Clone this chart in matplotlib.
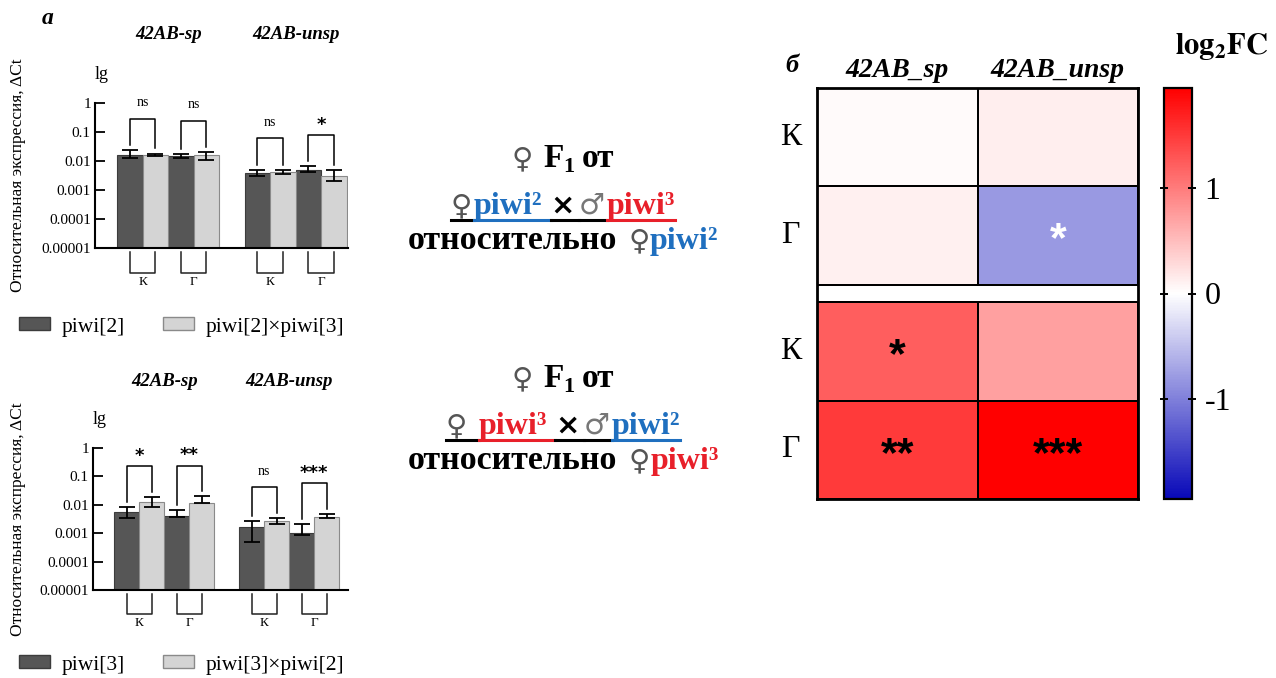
import numpy as np
import matplotlib.pyplot as plt
from matplotlib.colors import LinearSegmentedColormap
from matplotlib.patches import Patch
from matplotlib.lines import Line2D
from matplotlib.transforms import blended_transform_factory, IdentityTransform

plt.rcParams['font.family'] = ['Liberation Serif', 'DejaVu Sans']
plt.rcParams['mathtext.fontset'] = 'stix'

W, H = 1276, 678

# ---- data -------------------------------------------------------------
genes = ['42AB-sp', '42AB-unsp']
tissues = ['К', 'Г']
# order of values: sp-К, sp-Г, unsp-К, unsp-Г

# panel a, top: piwi[2] vs F1 piwi[2] x piwi[3]
top_names = ['piwi[2]', 'piwi[2]×piwi[3]']
top_ctrl = [0.0165, 0.0145, 0.0039, 0.0050]
top_ctrl_lo = [0.0126, 0.0130, 0.0030, 0.0042]
top_ctrl_hi = [0.0234, 0.0173, 0.0050, 0.0065]
top_cross = [0.0165, 0.0160, 0.0042, 0.0030]
top_cross_lo = [0.0145, 0.0105, 0.0037, 0.0021]
top_cross_hi = [0.0180, 0.0200, 0.0048, 0.0048]
top_sig = ['ns', 'ns', 'ns', '*']

# panel a, bottom: piwi[3] vs F1 piwi[3] x piwi[2]
bot_names = ['piwi[3]', 'piwi[3]×piwi[2]']
bot_ctrl = [0.0055, 0.0041, 0.0017, 0.0010]
bot_ctrl_lo = [0.0034, 0.0037, 0.00051, 0.00083]
bot_ctrl_hi = [0.0081, 0.0066, 0.0026, 0.0021]
bot_cross = [0.0130, 0.0115, 0.0027, 0.0037]
bot_cross_lo = [0.0083, 0.0112, 0.0021, 0.0034]
bot_cross_hi = [0.0187, 0.0196, 0.0034, 0.0048]
bot_sig = ['*', '**', 'ns', '***']

ytick_vals = [1e-5, 1e-4, 1e-3, 1e-2, 1e-1, 1]
ytick_labels = ['0.00001', '0.0001', '0.001', '0.01', '0.1', '1']

# panel b: log2FC, rows К, Г ; columns sp, unsp
hm_cols = ['42AB_sp', '42AB_unsp']
fc_23 = [[0.04, 0.13], [0.12, -0.80]]
fc_32 = [[1.22, 0.72], [1.50, 1.95]]
stars_23 = [['', ''], ['', '*']]
stars_32 = [['*', ''], ['**', '***']]
cbar_ticks = [-1, 0, 1]

DARK = '#565656'
LIGHT = '#d4d4d4'
BLUE = '#1f6fbf'
RED = '#e8202a'

fig = plt.figure(figsize=(W / 100, H / 100), dpi=100)


def frect(left, top, right, bottom):
    return [left / W, 1 - bottom / H, (right - left) / W, (bottom - top) / H]


def bar_panel(rect, ctrl, ctrl_lo, ctrl_hi, cross, cross_lo, cross_hi, sig, names,
              xlim, legend_y):
    ax = fig.add_axes(rect)
    ax.set_yscale('log')
    ctrl, cross = np.array(ctrl), np.array(cross)
    idx = np.arange(len(ctrl))
    p1 = (idx // 2) * 5 + (idx % 2) * 2
    p2 = p1 + 1
    ax.bar(p1, ctrl - 1e-5, bottom=1e-5, width=1, color=DARK, edgecolor='#3c3c3c', lw=0.8)
    ax.bar(p2, cross - 1e-5, bottom=1e-5, width=1, color=LIGHT, edgecolor='#8a8a8a', lw=0.8)
    for p, v, lo, hi in [(p1, ctrl, ctrl_lo, ctrl_hi), (p2, cross, cross_lo, cross_hi)]:
        ax.errorbar(p, v, yerr=[v - np.array(lo), np.array(hi) - v], fmt='none',
                    ecolor='k', elinewidth=1.3, capsize=6, capthick=1.3)
    ax.set_ylim(1e-5, 1)
    ax.set_xlim(*xlim)
    ax.set_yticks(ytick_vals)
    ax.set_yticklabels(ytick_labels, fontsize=11)
    ax.minorticks_off()
    ax.set_xticks([])
    ax.tick_params(axis='y', direction='in', length=7, width=1.3, pad=3)
    for s in ['top', 'right']:
        ax.spines[s].set_visible(False)
    for s in ['left', 'bottom']:
        ax.spines[s].set_linewidth(1.5)
    tr = blended_transform_factory(ax.transData, ax.transAxes)
    for i in idx:
        a, b = p1[i], p2[i]
        # tissue bracket below the axis
        ax.plot([a, a, b, b], [-0.03, -0.17, -0.17, -0.03], transform=tr,
                color='#222', lw=1.1, clip_on=False)
        ax.text((a + b) / 2, -0.235, tissues[i % 2], transform=tr, ha='center',
                va='center', fontsize=9.5)
        # significance bracket
        top = max(ctrl_hi[i], cross_hi[i]) * 12
        ax.plot([a, a, b, b], [ctrl_hi[i] * 1.5, top, top, cross_hi[i] * 1.5],
                color='k', lw=1.1, clip_on=False)
        if sig[i] == 'ns':
            ax.annotate('ns', ((a + b) / 2, top), xytext=(0, 7), textcoords='offset points',
                        ha='center', va='bottom', fontsize=10)
        else:
            ax.annotate(sig[i], ((a + b) / 2, top), xytext=(0, 1), textcoords='offset points',
                        ha='center', va='bottom', fontsize=13, weight='bold',
                        family='DejaVu Sans')
    for g, gene in enumerate(genes):
        c = (p1[2 * g] + p2[2 * g + 1]) / 2
        ax.text(c, 1.47, gene, transform=tr, ha='center', va='center', fontsize=13.5,
                weight='bold', style='italic')
    ax.text(0.0, 1.2, 'lg', transform=ax.transAxes, ha='left', va='center', fontsize=13)
    handles = [Patch(facecolor=DARK, edgecolor='#3c3c3c', label=names[0]),
               Patch(facecolor=LIGHT, edgecolor='#8a8a8a', label=names[1])]
    fig.legend(handles=handles, ncol=2, loc='center left',
               bbox_to_anchor=(19 / W, 1 - legend_y / H), frameon=False, fontsize=15.5,
               handlelength=1.45, handleheight=0.55, handletextpad=0.55, columnspacing=1.75,
               borderpad=0, borderaxespad=0)
    # y label
    fig.text(18 / W, rect[1] + rect[3] / 2, 'Относительная экспрессия, ΔCt', rotation=90,
             ha='center', va='center', fontsize=12.5)
    return ax


bar_panel(frect(95, 103, 348, 248), top_ctrl, top_ctrl_lo, top_ctrl_hi, top_cross,
          top_cross_lo, top_cross_hi, top_sig, top_names, (-1.37, 8.55), 327)
bar_panel(frect(93, 448, 348, 590), bot_ctrl, bot_ctrl_lo, bot_ctrl_hi, bot_cross,
          bot_cross_lo, bot_cross_hi, bot_sig, bot_names, (-1.35, 8.86), 665)

fig.text(48 / W, 1 - 18 / H, 'a', ha='center', va='center', fontsize=17,
         weight='bold', style='italic')

# ---- middle captions -------------------------------------------------
renderer = fig.canvas.get_renderer()


def rich_line(parts, cx, base_y):
    texts = []
    for p in parts:
        t = fig.text(0, 0, p['s'], transform=IdentityTransform(), ha='left', va='baseline',
                     color=p.get('c', 'k'), fontsize=p.get('size', 23),
                     weight=p.get('w', 'bold'), family=p.get('f', 'Liberation Serif'))
        texts.append(t)
    widths = [t.get_window_extent(renderer).width for t in texts]
    total = sum(widths) + sum(p.get('gap', 0) for p in parts)
    x = cx - total / 2
    segs = []
    for t, w, p in zip(texts, widths, parts):
        t.set_position((x, H - base_y + p.get('dy', 0)))
        segs.append((x, x + w + p.get('gap', 0), p.get('uc', 'k')))
        x += w + p.get('gap', 0)
    return segs


def underline(segs, y):
    for x0, x1, c in segs:
        fig.add_artist(Line2D([x0, x1], [H - y, H - y], transform=IdentityTransform(),
                              color=c, lw=2.2))


FEM = dict(s='♀', f='DejaVu Sans', w='normal', c='#555555', size=21)
MAL = dict(s='♂', f='DejaVu Sans', w='normal', c='#777777', size=21)
TIMES = dict(s='×', f='DejaVu Sans', w='bold', size=21, gap=4)

for base, first, second, rel in [(0, ('piwi²', BLUE), ('piwi³', RED), ('piwi²', BLUE)),
                                 (220, ('piwi³', RED), ('piwi²', BLUE), ('piwi³', RED))]:
    rich_line([dict(FEM, gap=10), dict(s='F', size=24), dict(s='1', size=16, dy=-5, gap=7),
               dict(s='от', size=24)], 563, 167 + base)
    segs = rich_line([dict(FEM, gap=2 if base == 0 else 12),
                      dict(s=first[0], c=first[1], uc=first[1], gap=8), TIMES,
                      dict(MAL, gap=2), dict(s=second[0], c=second[1], uc=second[1])],
                     563, 214 + base)
    underline(segs, 220 + base)
    rich_line([dict(s='относительно', size=24.5, gap=12), FEM, dict(s=rel[0], c=rel[1])],
              563, 249 + base)

# ---- panel b: heatmap --------------------------------------------------
cmap = LinearSegmentedColormap.from_list('fc', ['#0808b8', '#ffffff', '#ff0000'])
vlim = 1.94
gap = 0.183
hax = fig.add_axes(frect(817, 88, 1138, 499))
xe = np.arange(len(hm_cols) + 1)
m = hax.pcolormesh(xe, np.arange(3), np.array(fc_23), cmap=cmap, vmin=-vlim, vmax=vlim,
                   edgecolors='k', linewidth=1.1)
hax.pcolormesh(xe, np.arange(3) + 2 + gap, np.array(fc_32), cmap=cmap, vmin=-vlim,
               vmax=vlim, edgecolors='k', linewidth=1.1)
hax.set_xlim(0, 2)
hax.set_ylim(4 + gap, 0)
hax.set_xticks([])
hax.set_yticks([])
for s in hax.spines.values():
    s.set_linewidth(2.0)

for block, (stars, off) in enumerate([(stars_23, 0), (stars_32, 2 + gap)]):
    for r in range(2):
        hax.text(-0.165, off + r + 0.5, tissues[r], ha='center', va='center', fontsize=23,
                 clip_on=False)
        for c in range(2):
            if stars[r][c]:
                col = 'white' if block == 0 else 'k'
                hax.text(c + 0.5, off + r + 0.55, stars[r][c], ha='center', va='center',
                         fontsize=31, weight='bold', family='Liberation Sans', color=col)
for c, name in enumerate(hm_cols):
    hax.text(c + 0.5, -0.18, name, ha='center', va='center', fontsize=20, weight='bold',
             style='italic', clip_on=False)

fig.text(792 / W, 1 - 66 / H, 'б', ha='center', va='center', fontsize=19, weight='bold',
         style='italic')

cax = fig.add_axes(frect(1164, 88, 1192, 499))
cb = fig.colorbar(m, cax=cax, ticks=cbar_ticks)
cb.ax.set_yticklabels([str(t) for t in cbar_ticks], fontsize=23)
cb.ax.tick_params(direction='inout', length=6, width=1.4, left=True, right=True, pad=6)
cb.outline.set_linewidth(1.6)
fig.text(1222 / W, 1 - 47 / H, r'$\mathbf{log_2FC}$', ha='center', va='center',
         fontsize=22)

fig.savefig('out.png', dpi=100)
